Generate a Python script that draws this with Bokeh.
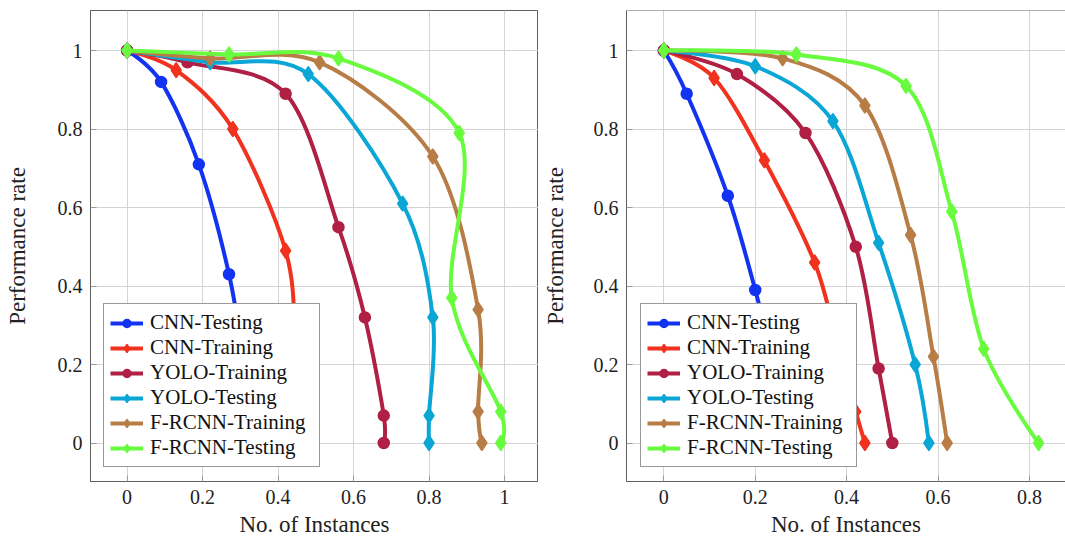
import numpy as np
from bokeh.plotting import figure
from bokeh.layouts import row
from bokeh.models import (Range1d, FixedTicker, NumeralTickFormatter, Legend,
                          LegendItem, ColumnDataSource, Span)
from bokeh.embed import file_html
from bokeh.resources import INLINE

# ---------------- data ----------------
series_names = ["CNN-Testing", "CNN-Training", "YOLO-Training",
                "YOLO-Testing", "F-RCNN-Training", "F-RCNN-Testing"]
series_colors = ["#1233f2", "#f0321f", "#b01f44", "#0aa6d6", "#b87d46", "#68fb3e"]
series_markers = ["circle", "diamond", "circle", "diamond", "diamond", "diamond"]

# left panel
left_cnn_test_x = [0, 0.09, 0.19, 0.27, 0.31, 0.33, 0.33]
left_cnn_test_y = [1, 0.92, 0.71, 0.43, 0.20, 0.07, 0]
left_cnn_train_x = [0, 0.13, 0.28, 0.42, 0.445, 0.445, 0.445]
left_cnn_train_y = [1, 0.95, 0.80, 0.49, 0.25, 0.07, 0]
left_yolo_train_x = [0, 0.16, 0.42, 0.56, 0.63, 0.68, 0.68]
left_yolo_train_y = [1, 0.97, 0.89, 0.55, 0.32, 0.07, 0]
left_yolo_test_x = [0, 0.22, 0.48, 0.73, 0.81, 0.80, 0.80]
left_yolo_test_y = [1, 0.97, 0.94, 0.61, 0.32, 0.07, 0]
left_frcnn_train_x = [0, 0.22, 0.51, 0.81, 0.93, 0.93, 0.94]
left_frcnn_train_y = [1, 0.98, 0.97, 0.73, 0.34, 0.08, 0]
left_frcnn_test_x = [0, 0.27, 0.56, 0.88, 0.86, 0.99, 0.99]
left_frcnn_test_y = [1, 0.99, 0.98, 0.79, 0.37, 0.08, 0]

# right panel
right_cnn_test_x = [0, 0.05, 0.14, 0.20, 0.24, 0.27]
right_cnn_test_y = [1, 0.89, 0.63, 0.39, 0.20, 0]
right_cnn_train_x = [0, 0.11, 0.22, 0.33, 0.38, 0.42, 0.44]
right_cnn_train_y = [1, 0.93, 0.72, 0.46, 0.25, 0.08, 0]
right_yolo_train_x = [0, 0.16, 0.31, 0.42, 0.47, 0.50]
right_yolo_train_y = [1, 0.94, 0.79, 0.50, 0.19, 0]
right_yolo_test_x = [0, 0.20, 0.37, 0.47, 0.55, 0.58]
right_yolo_test_y = [1, 0.96, 0.82, 0.51, 0.20, 0]
right_frcnn_train_x = [0, 0.26, 0.44, 0.54, 0.59, 0.62]
right_frcnn_train_y = [1, 0.98, 0.86, 0.53, 0.22, 0]
right_frcnn_test_x = [0, 0.29, 0.53, 0.63, 0.70, 0.82]
right_frcnn_test_y = [1, 0.99, 0.91, 0.59, 0.24, 0]

y_ticks = [0, 0.2, 0.4, 0.6, 0.8, 1]
left_x_ticks = [0, 0.2, 0.4, 0.6, 0.8, 1]
right_x_ticks = [0, 0.2, 0.4, 0.6, 0.8]

x_label = "No. of Instances"
y_label = "Performance rate"

left_series = [(left_cnn_test_x, left_cnn_test_y), (left_cnn_train_x, left_cnn_train_y),
               (left_yolo_train_x, left_yolo_train_y), (left_yolo_test_x, left_yolo_test_y),
               (left_frcnn_train_x, left_frcnn_train_y), (left_frcnn_test_x, left_frcnn_test_y)]
right_series = [(right_cnn_test_x, right_cnn_test_y), (right_cnn_train_x, right_cnn_train_y),
                (right_yolo_train_x, right_yolo_train_y), (right_yolo_test_x, right_yolo_test_y),
                (right_frcnn_train_x, right_frcnn_train_y), (right_frcnn_test_x, right_frcnn_test_y)]

FONT = "'Liberation Serif', 'DejaVu Serif', serif"
FRAME = "#5f5f5f"
GRID = "#d4d4d4"


def smooth_segments(xs, ys, k=0.16):
    """Cubic Bezier segments through the data points (like pgfplots 'smooth')."""
    xs = np.asarray(xs, float)
    ys = np.asarray(ys, float)
    n = len(xs)
    tx = np.zeros(n)
    ty = np.zeros(n)
    tx[1:-1] = (xs[2:] - xs[:-2]) * k
    ty[1:-1] = (ys[2:] - ys[:-2]) * k
    return dict(x0=xs[:-1], y0=ys[:-1], x1=xs[1:], y1=ys[1:],
                cx0=xs[:-1] + tx[:-1], cy0=ys[:-1] + ty[:-1],
                cx1=xs[1:] - tx[1:], cy1=ys[1:] - ty[1:])


def make_panel(series, x_ticks, x_range, width, border_left, border_right,
               legend_loc, outline, ylab_standoff):
    p = figure(width=width, height=540, output_backend="svg", toolbar_location=None,
               x_range=Range1d(*x_range), y_range=Range1d(-0.098, 1.102),
               min_border_left=border_left, min_border_right=border_right,
               min_border_top=10, min_border_bottom=59)
    p.background_fill_color = "white"
    p.border_fill_color = "white"
    p.outline_line_color = FRAME if outline else None
    p.outline_line_width = 1

    items = []
    for (xs, ys), name, col, mk in zip(series, series_names, series_colors, series_markers):
        seg = ColumnDataSource(smooth_segments(xs, ys))
        rb = p.bezier(x0="x0", y0="y0", x1="x1", y1="y1", cx0="cx0", cy0="cy0",
                      cx1="cx1", cy1="cy1", source=seg, line_color=col, line_width=4)
        sz = 11 if mk == "circle" else 15
        rs = p.scatter(xs, ys, marker=mk, size=sz, fill_color=col, line_color=col,
                       line_width=1.5)
        items.append(LegendItem(label=name, renderers=[rb, rs]))

    legend = Legend(items=items, location=legend_loc,
                    label_text_font=FONT, label_text_font_size="21px",
                    label_text_color="#111111",
                    glyph_width=33, glyph_height=20, label_height=20, label_width=163,
                    label_standoff=7, spacing=0, padding=6, margin=0,
                    border_line_color="#333333", border_line_width=1,
                    background_fill_color="white", background_fill_alpha=1.0)
    p.add_layout(legend, "center")

    for ax in (p.xaxis[0], p.yaxis[0]):
        ax.axis_line_color = FRAME
        ax.major_tick_in = 6
        ax.major_tick_out = 0
        ax.major_tick_line_color = "#9a9a9a"
        ax.minor_tick_line_color = None
        ax.major_label_standoff = 8
        ax.major_label_text_font = FONT
        ax.major_label_text_font_size = "20px"
        ax.major_label_text_color = "#222222"
        ax.axis_label_text_font = FONT
        ax.axis_label_text_font_size = "23px"
        ax.axis_label_text_font_style = "normal"
        ax.axis_label_text_color = "#222222"
        ax.formatter = NumeralTickFormatter(format="0.[0]")

    p.xaxis.ticker = FixedTicker(ticks=x_ticks)
    p.yaxis.ticker = FixedTicker(ticks=y_ticks)
    p.xaxis.axis_label = x_label
    p.yaxis.axis_label = y_label
    p.xaxis.axis_label_standoff = 5
    p.yaxis.axis_label_standoff = ylab_standoff

    p.xgrid.ticker = FixedTicker(ticks=x_ticks)
    p.ygrid.ticker = FixedTicker(ticks=y_ticks)
    for g in (p.xgrid[0], p.ygrid[0]):
        g.grid_line_color = GRID
        g.grid_line_width = 1
    if not outline:
        p.add_layout(Span(location=1.102, dimension="width", line_color=FRAME, line_width=1))
    return p


p1 = make_panel(left_series, left_x_ticks, (-0.097, 1.09), 538, 90, 0, (13, 14), True, 25)
p2 = make_panel(right_series, right_x_ticks, (-0.0817, 0.879), 527, 88, 0, (14, 14), False, 23)

layout = row(p1, p2)
open("out.html", "w").write(file_html(layout, INLINE))
